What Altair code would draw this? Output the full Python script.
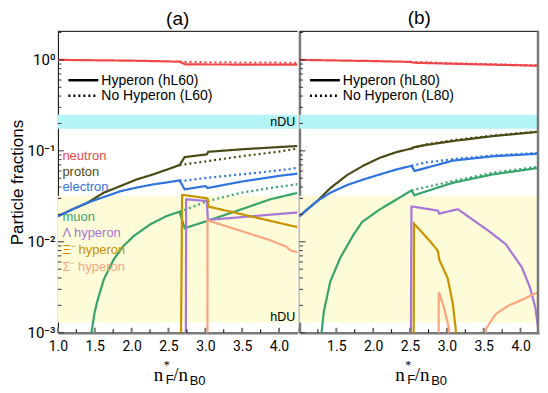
import altair as alt
import pandas as pd

# ---------------- panel (a): hL60 (H, solid) / L60 (N, dotted) ----------------
A_NEU_H_X = [1.0, 1.5, 2.0, 2.4, 2.65, 2.73, 3.0, 3.5, 4.0, 4.25]
A_NEU_H_Y = [1.0, 0.99, 0.98, 0.965, 0.955, 0.89, 0.89, 0.888, 0.886, 0.885]
A_NEU_N_X = [2.65, 3.0, 3.5, 4.0, 4.25]
A_NEU_N_Y = [0.955, 0.94, 0.935, 0.93, 0.925]

A_PRO_H_X = [1.0, 1.2, 1.4, 1.62, 1.85, 2.07, 2.29, 2.5, 2.65, 2.72, 3.02, 3.04, 3.5, 4.0, 4.25]
A_PRO_H_Y = [0.0191, 0.0228, 0.0268, 0.0346, 0.041, 0.0485, 0.055, 0.063, 0.0697, 0.0853, 0.0914, 0.0976, 0.104, 0.110, 0.113]
A_PRO_N_X = [2.65, 2.72, 3.03, 3.48, 4.0, 4.25]
A_PRO_N_Y = [0.0697, 0.071, 0.077, 0.087, 0.098, 0.106]

A_ELE_H_X = [1.0, 1.2, 1.4, 1.62, 1.85, 2.07, 2.29, 2.5, 2.65, 2.72, 3.0, 3.03, 3.5, 4.0, 4.25]
A_ELE_H_Y = [0.0191, 0.0228, 0.0268, 0.031, 0.036, 0.0395, 0.0427, 0.0452, 0.0473, 0.0377, 0.041, 0.039, 0.046, 0.053, 0.0561]
A_ELE_N_X = [2.65, 2.72, 3.03, 3.48, 4.0, 4.25]
A_ELE_N_Y = [0.0473, 0.047, 0.0506, 0.055, 0.061, 0.065]

A_MUO_H_X = [1.447, 1.454, 1.5, 1.535, 1.623, 1.757, 1.89, 2.025, 2.25, 2.47, 2.65, 2.72, 3.03, 3.48, 3.88, 4.25]
A_MUO_H_Y = [0.0006, 0.001, 0.0017, 0.00223, 0.00386, 0.0064, 0.009, 0.0115, 0.0155, 0.0191, 0.0214, 0.0141, 0.017, 0.0226, 0.0293, 0.0345]
A_MUO_N_X = [2.65, 3.03, 3.48, 3.88, 4.25]
A_MUO_N_Y = [0.0214, 0.028, 0.0345, 0.039, 0.043]

A_LAM_H_X = [2.735, 2.74, 3.02, 3.035, 4.25]
A_LAM_H_Y = [0.0005, 0.0293, 0.0281, 0.0174, 0.021]
A_XI_H_X = [2.668, 2.685, 2.72, 3.03, 3.04, 4.25]
A_XI_H_Y = [0.0005, 0.0326, 0.0326, 0.030, 0.0244, 0.0145]
A_SIG_H_X = [3.028, 3.03, 3.48, 3.88, 4.10, 4.16, 4.25]
A_SIG_H_Y = [0.0005, 0.0172, 0.0132, 0.0104, 0.0088, 0.0080, 0.0077]

# ---------------- panel (b): hL80 (H, solid) / L80 (N, dotted) ----------------
B_NEU_H_X = [1.0, 1.5, 2.0, 2.5, 2.56, 3.0, 3.5, 4.0, 4.25]
B_NEU_H_Y = [1.0, 0.985, 0.97, 0.95, 0.93, 0.91, 0.89, 0.872, 0.862]
B_NEU_N_X = [2.5, 2.56, 3.0, 3.5, 4.0, 4.25]
B_NEU_N_Y = [0.95, 0.945, 0.92, 0.898, 0.878, 0.868]

B_PRO_H_X = [1.0, 1.12, 1.24, 1.26, 1.42, 1.645, 1.87, 2.09, 2.32, 2.52, 2.56, 2.72, 3.08, 3.62, 4.25]
B_PRO_H_Y = [0.0191, 0.0232, 0.028, 0.029, 0.039, 0.054, 0.0689, 0.0838, 0.097, 0.106, 0.110, 0.116, 0.128, 0.145, 0.162]
B_PRO_N_X = [2.52, 2.72, 3.08, 3.62, 4.25]
B_PRO_N_Y = [0.106, 0.118, 0.131, 0.147, 0.163]

B_ELE_H_X = [1.0, 1.12, 1.24, 1.42, 1.645, 1.87, 2.09, 2.32, 2.52, 2.56, 2.72, 3.08, 3.62, 4.25]
B_ELE_H_Y = [0.0191, 0.0232, 0.028, 0.0346, 0.042, 0.0485, 0.055, 0.0625, 0.0684, 0.060, 0.065, 0.078, 0.087, 0.093]
B_ELE_N_X = [2.52, 2.72, 3.08, 3.62, 4.25]
B_ELE_N_Y = [0.0684, 0.0745, 0.081, 0.089, 0.095]

B_MUO_H_X = [1.295, 1.30, 1.33, 1.42, 1.555, 1.735, 1.85, 2.09, 2.32, 2.52, 2.56, 2.72, 3.08, 3.62, 4.25]
B_MUO_H_Y = [0.0006, 0.001, 0.0017, 0.0037, 0.0067, 0.012, 0.0165, 0.0227, 0.0293, 0.0367, 0.0325, 0.0359, 0.0445, 0.055, 0.065]
B_MUO_N_X = [2.52, 2.72, 3.08, 3.62, 4.25]
B_MUO_N_Y = [0.0367, 0.040, 0.0465, 0.0575, 0.067]

B_LAM_H_X = [2.51, 2.52, 2.55, 2.88, 2.895, 3.15, 3.57, 3.80, 4.02, 4.13, 4.20, 4.24, 4.25]
B_LAM_H_Y = [0.0005, 0.0243, 0.0243, 0.022, 0.0204, 0.0228, 0.0131, 0.0094, 0.0052, 0.0031, 0.0019, 0.0011, 0.0005]
B_XI_H_X = [2.548, 2.555, 2.77, 2.88, 2.895, 3.01, 3.08, 3.12, 3.13]
B_XI_H_Y = [0.0005, 0.0158, 0.0102, 0.0079, 0.0064, 0.004, 0.0021, 0.0011, 0.0005]
B_SIG1_H_X = [2.888, 2.89, 2.96, 3.03, 3.04]
B_SIG1_H_Y = [0.0005, 0.0028, 0.0019, 0.0011, 0.0005]
B_SIG2_H_X = [3.50, 3.53, 3.66, 3.84, 4.02, 4.15, 4.25]
B_SIG2_H_Y = [0.0005, 0.0011, 0.0016, 0.0020, 0.0023, 0.0026, 0.0028]

# ---------------- labels, colours, ticks ----------------
SPECIES = ["neutron", "proton", "electron", "muon", "Λ hyperon", "Ξ⁻ hyperon", "Σ⁻ hyperon"]
COLORS = ["#f04848", "#4b4a14", "#2f74e0", "#37a56a", "#a876d9", "#c99300", "#f9a683"]
LABEL_Y = [0.0875, 0.0588, 0.0402, 0.0187, 0.01256, 0.0081, 0.00527]
LEGEND_A = ["Hyperon (hL60)", "No Hyperon (L60)"]
LEGEND_B = ["Hyperon (hL80)", "No Hyperon (L80)"]
BAND_TEXT = ["nDU", "hDU"]
BAND_TEXT_Y = [0.205, 0.00148]
NDU_BAND = [0.175, 0.25]
HDU_BAND = [0.0013, 0.032]
Y_MAJOR = [0.001, 0.01, 0.1, 1.0]
Y_MINOR = [0.002, 0.003, 0.004, 0.005, 0.006, 0.007, 0.008, 0.009,
           0.02, 0.03, 0.04, 0.05, 0.06, 0.07, 0.08, 0.09,
           0.2, 0.3, 0.4, 0.5, 0.6, 0.7, 0.8, 0.9, 2.0]
X_MAJOR = [1.0, 1.5, 2.0, 2.5, 3.0, 3.5, 4.0]
X_MINOR = [1.25, 1.75, 2.25, 2.75, 3.25, 3.75]

W, H = 240, 302
XDOM = [1.0, 4.25]
YDOM = [0.001, 2.06]
TICKFONT = "Roboto"
SANS = "Liberation Sans"
SERIF = "Liberation Serif"
GRAY = "#7a7a7a"


def add(rows, species, model, xs, ys, seg=0):
    for i, (x, y) in enumerate(zip(xs, ys)):
        rows.append(dict(species=species, model=model,
                         key=f"{species}|{model}|{seg}", i=i, x=x, y=y))


rows_a = []
add(rows_a, SPECIES[0], "N", A_NEU_N_X, A_NEU_N_Y)
add(rows_a, SPECIES[1], "N", A_PRO_N_X, A_PRO_N_Y)
add(rows_a, SPECIES[2], "N", A_ELE_N_X, A_ELE_N_Y)
add(rows_a, SPECIES[3], "N", A_MUO_N_X, A_MUO_N_Y)
add(rows_a, SPECIES[0], "H", A_NEU_H_X, A_NEU_H_Y)
add(rows_a, SPECIES[1], "H", A_PRO_H_X, A_PRO_H_Y)
add(rows_a, SPECIES[2], "H", A_ELE_H_X, A_ELE_H_Y)
add(rows_a, SPECIES[3], "H", A_MUO_H_X, A_MUO_H_Y)
add(rows_a, SPECIES[4], "H", A_LAM_H_X, A_LAM_H_Y)
add(rows_a, SPECIES[6], "H", A_SIG_H_X, A_SIG_H_Y)
add(rows_a, SPECIES[5], "H", A_XI_H_X, A_XI_H_Y)

rows_b = []
add(rows_b, SPECIES[0], "N", B_NEU_N_X, B_NEU_N_Y)
add(rows_b, SPECIES[1], "N", B_PRO_N_X, B_PRO_N_Y)
add(rows_b, SPECIES[2], "N", B_ELE_N_X, B_ELE_N_Y)
add(rows_b, SPECIES[3], "N", B_MUO_N_X, B_MUO_N_Y)
add(rows_b, SPECIES[0], "H", B_NEU_H_X, B_NEU_H_Y)
add(rows_b, SPECIES[1], "H", B_PRO_H_X, B_PRO_H_Y)
add(rows_b, SPECIES[2], "H", B_ELE_H_X, B_ELE_H_Y)
add(rows_b, SPECIES[3], "H", B_MUO_H_X, B_MUO_H_Y)
add(rows_b, SPECIES[4], "H", B_LAM_H_X, B_LAM_H_Y)
add(rows_b, SPECIES[6], "H", B_SIG1_H_X, B_SIG1_H_Y, seg=1)
add(rows_b, SPECIES[6], "H", B_SIG2_H_X, B_SIG2_H_Y, seg=2)
add(rows_b, SPECIES[5], "H", B_XI_H_X, B_XI_H_Y)

color_scale = alt.Scale(domain=SPECIES, range=COLORS)


def panel(rows, title, legend_names, first):
    df = pd.DataFrame(rows)
    xs = alt.Scale(domain=XDOM, nice=False, zero=False)
    ys = alt.Scale(type="log", domain=YDOM, nice=False)
    xaxis = alt.Axis(values=X_MAJOR if first else X_MAJOR[1:], format=".1f",
                     ticks=False, tickSize=0, grid=False, domainColor=GRAY,
                     domainWidth=2.5, labelFont=TICKFONT, labelFontSize=14,
                     labelColor="black", labelPadding=7, title="",
                     labelFlush=False)
    ykw = dict(values=Y_MAJOR, ticks=False, tickSize=0, grid=False,
               labelFont=TICKFONT, labelFontSize=15, labelColor="black",
               labelPadding=3)
    if first:
        ykw.update(domainColor="black", domainWidth=1,
                   labelExpr="datum.value >= 0.99 ? '10⁰' : datum.value >= 0.099 ? '10⁻¹' : datum.value >= 0.0099 ? '10⁻²' : '10⁻³'",
                   title="Particle fractions", titleFont=SANS, titleFontSize=17,
                   titleFontWeight="normal", titleColor="black", titlePadding=1)
    else:
        ykw.update(domainColor=GRAY, domainWidth=2.5, labels=False, title="")
    yaxis = alt.Axis(**ykw)

    def X(f):
        return alt.X(f, type="quantitative", scale=xs, axis=xaxis)

    def Y(f):
        return alt.Y(f, type="quantitative", scale=ys, axis=yaxis)

    layers = []
    bands = pd.DataFrame({"x0": [XDOM[0], XDOM[0]], "x1": [XDOM[1], XDOM[1]],
                          "y0": [HDU_BAND[0], NDU_BAND[0]], "y1": [HDU_BAND[1], NDU_BAND[1]],
                          "b": ["h", "n"]})
    layers.append(alt.Chart(bands[bands.b == "h"]).mark_rect(color="#fdfbd8").encode(
        x=X("x0"), x2="x1", y=Y("y0"), y2="y1"))
    layers.append(alt.Chart(bands[bands.b == "n"]).mark_rect(color="#b4f3f6").encode(
        x=X("x0"), x2="x1", y=Y("y0"), y2="y1"))

    layers.append(alt.Chart(df).mark_line(clip=True, strokeWidth=2.2).encode(
        x=X("x"), y=Y("y"),
        color=alt.Color("species:N", scale=color_scale, legend=None),
        strokeDash=alt.StrokeDash("model:N", scale=alt.Scale(domain=["H", "N"], range=[[1, 0], [2, 3]]), legend=None),
        detail="key:N",
        order="i:Q"))

    # inward ticks
    layers.append(alt.Chart(pd.DataFrame({"v": Y_MAJOR})).mark_rule(color="#333333", strokeWidth=1).encode(
        y=Y("v"), x=alt.value(0), x2=alt.value(6)))
    layers.append(alt.Chart(pd.DataFrame({"v": Y_MINOR})).mark_rule(color="#333333", strokeWidth=1).encode(
        y=Y("v"), x=alt.value(0), x2=alt.value(3.5)))
    layers.append(alt.Chart(pd.DataFrame({"v": X_MAJOR})).mark_rule(color=GRAY, strokeWidth=2).encode(
        x=X("v"), y=alt.value(H), y2=alt.value(H - 5)))
    layers.append(alt.Chart(pd.DataFrame({"v": X_MINOR})).mark_rule(color="black", strokeWidth=1).encode(
        x=X("v"), y=alt.value(H), y2=alt.value(H - 3.5)))

    # frame: top (black) and, for the right panel, right edge (gray)
    layers.append(alt.Chart(pd.DataFrame({"v": [0]})).mark_rule(color="black", strokeWidth=1).encode(
        x=alt.value(0), x2=alt.value(W), y=alt.value(0)))
    if not first:
        layers.append(alt.Chart(pd.DataFrame({"v": [0]})).mark_rule(color=GRAY, strokeWidth=2.5).encode(
            x=alt.value(W - 1), y=alt.value(0), y2=alt.value(H)))

    # legend (line key)
    layers.append(alt.Chart(pd.DataFrame({"v": [0]})).mark_rule(color="black", strokeWidth=2.5).encode(
        x=alt.value(10.5), x2=alt.value(40.5), y=alt.value(49)))
    layers.append(alt.Chart(pd.DataFrame({"v": [0]})).mark_rule(color="black", strokeWidth=2.5, strokeDash=[2, 3]).encode(
        x=alt.value(10.5), x2=alt.value(40.5), y=alt.value(64.5)))
    for j, name in enumerate(legend_names):
        layers.append(alt.Chart(pd.DataFrame({"t": [name]})).mark_text(
            align="left", baseline="middle", font=SANS, fontSize=14, color="black").encode(
            x=alt.value(43.5), y=alt.value(49.5 + 15.5 * j), text="t:N"))

    if first:
        lab = pd.DataFrame({"species": SPECIES, "ly": LABEL_Y})
        layers.append(alt.Chart(lab).mark_text(align="left", baseline="middle", font=SANS, fontSize=13).encode(
            x=alt.value(4.5), y=Y("ly"), text="species:N",
            color=alt.Color("species:N", scale=color_scale, legend=None)))
        bt = pd.DataFrame({"t": BAND_TEXT, "x": [4.22, 4.22], "y": BAND_TEXT_Y})
        layers.append(alt.Chart(bt).mark_text(align="right", baseline="middle", font=SANS, fontSize=12.5, color="black").encode(
            x=X("x"), y=Y("y"), text="t:N"))

    # x-axis title  n*_F / n_B0
    parts = [("n", SERIF, 19, 96, 350), ("*", SERIF, 12, 106, 338),
             ("F", SANS, 13, 108, 353), ("/n", SERIF, 19, 115.5, 350),
             ("B0", SANS, 13, 132, 354)]
    for txt, font, size, px, py in parts:
        layers.append(alt.Chart(pd.DataFrame({"t": [txt]})).mark_text(
            align="left", baseline="alphabetic", font=font, fontSize=size, color="black").encode(
            x=alt.value(px), y=alt.value(py), text="t:N"))

    return alt.layer(*layers).properties(
        width=W, height=H,
        title=alt.TitleParams(text=title, font=SANS, fontSize=19, fontWeight="normal",
                              color="black", offset=2))


pa = panel(rows_a, "(a)", LEGEND_A, True)
pb = panel(rows_b, "(b)", LEGEND_B, False)

chart = alt.hconcat(pa, pb, spacing=0).properties(
    padding={"left": 0, "top": 0, "right": 0, "bottom": 0}
).configure_view(stroke=None)

chart.save("out.html", embed_options={"renderer": "svg", "actions": False})
